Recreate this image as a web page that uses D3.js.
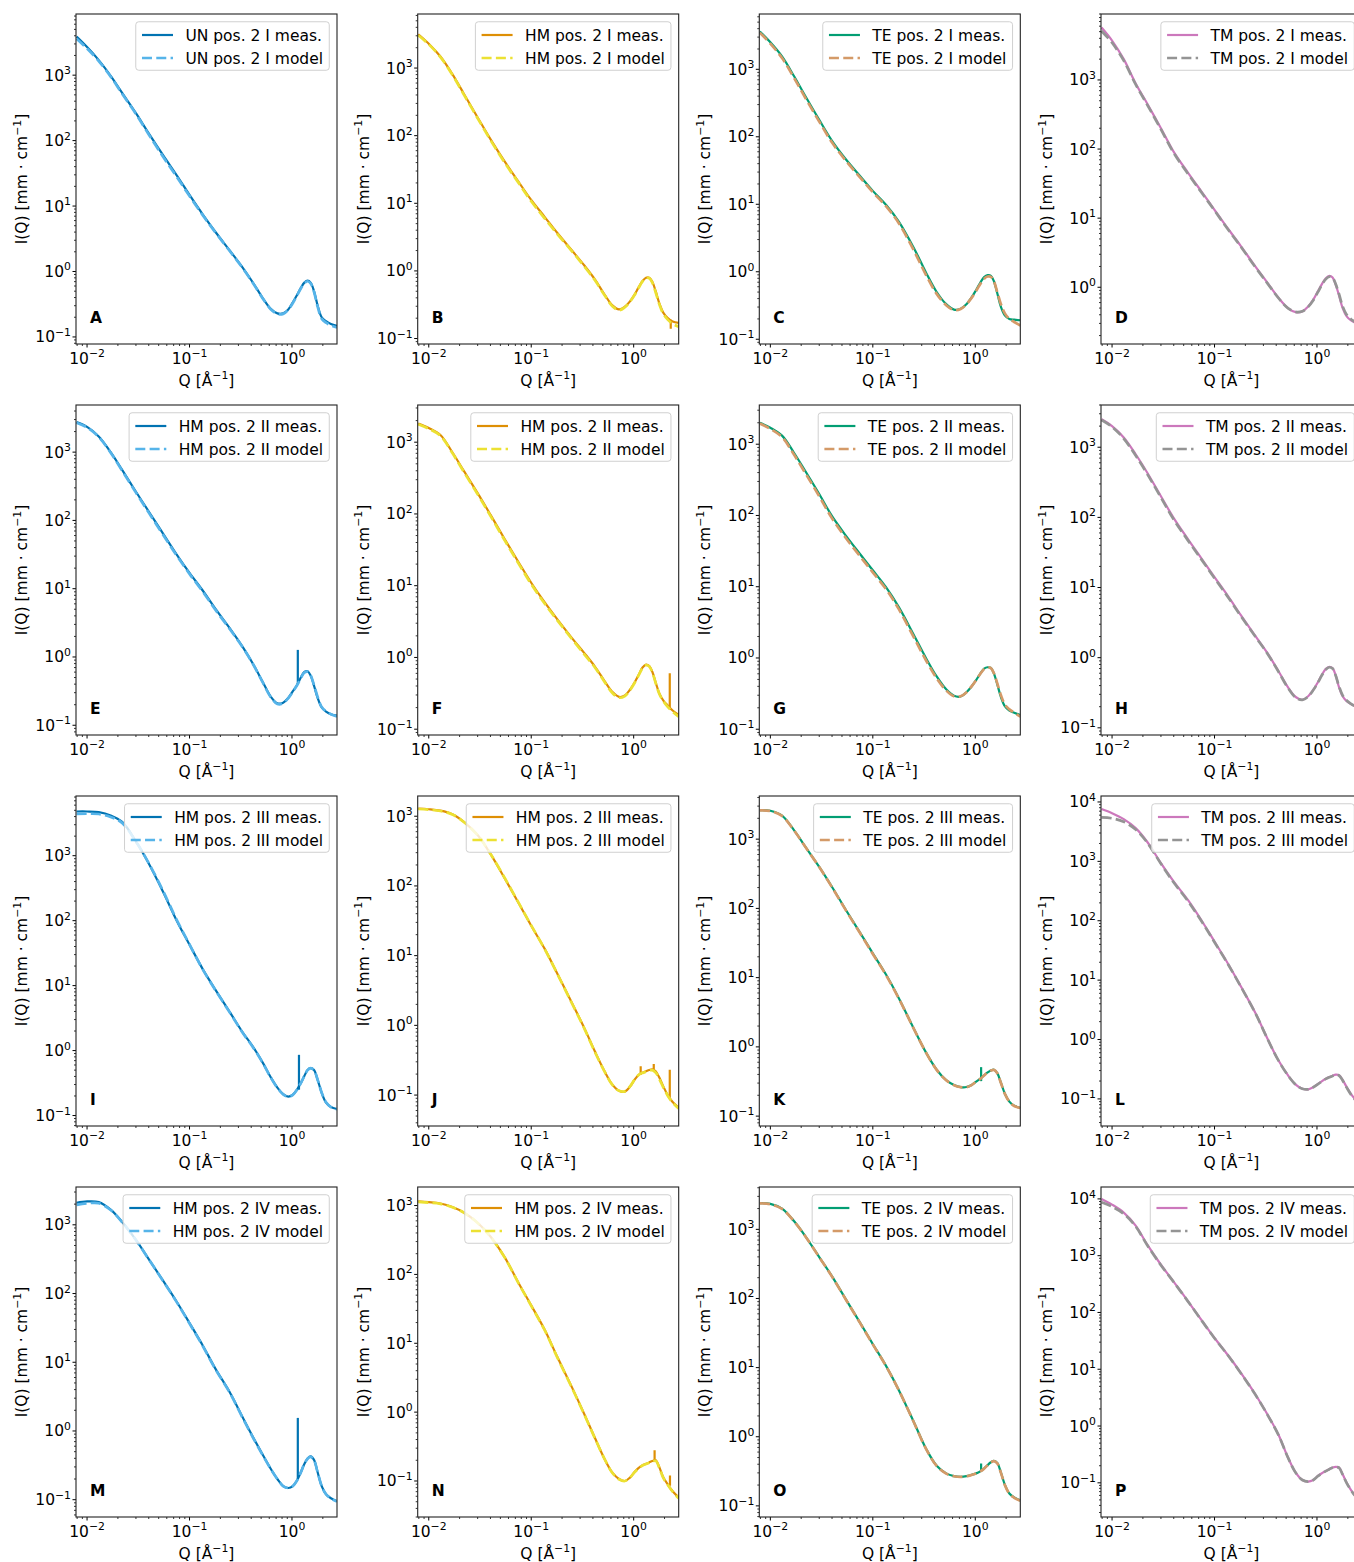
<!DOCTYPE html>
<html><head><meta charset="utf-8">
<script src="https://cdn.jsdelivr.net/npm/d3@7"></script>
<style>
body{margin:0;background:#fff;}
svg{display:block;font-family:"DejaVu Sans",sans-serif;}
</style></head><body>
<svg id="chart" width="1354" height="1562"></svg>
<script>
// ---------------- DATA ----------------
const Q = [0.0079,0.01,0.013,0.017,0.022,0.03,0.04,0.055,0.075,0.1,0.135,0.18,0.25,0.33,0.42,0.52,0.62,0.72,0.82,0.92,1.02,1.12,1.22,1.32,1.42,1.52,1.64,1.78,1.95,2.15,2.4,2.75];

const panelLetters = ["A","B","C","D","E","F","G","H","I","J","K","L","M","N","O","P"];
const sampleNames = ["UN","HM","TE","TM","HM","HM","TE","TM","HM","HM","TE","TM","HM","HM","TE","TM"];
const positionNames = ["I","I","I","I","II","II","II","II","III","III","III","III","IV","IV","IV","IV"];
const xTickLabels = ["10^-2","10^-1","10^0"];

const measA = [3890,2690,1700,977,537,263,129,60.3,29.5,14.8,7.41,3.98,2.04,1.15,0.661,0.389,0.269,0.229,0.229,0.263,0.339,0.437,0.562,0.676,0.724,0.676,0.501,0.302,0.2,0.174,0.158,0.148];
const modelA = [3600,2550,1640,950,520,255,124,57,28,14.2,7.2,3.9,2.0,1.13,0.65,0.385,0.265,0.224,0.225,0.26,0.33,0.43,0.55,0.66,0.71,0.66,0.49,0.29,0.19,0.165,0.15,0.14];
const measB = [3160,2290,1480,813,417,186,89.1,41.7,20.9,11.2,6.31,3.63,2.0,1.2,0.741,0.447,0.309,0.269,0.295,0.355,0.447,0.575,0.708,0.794,0.794,0.692,0.501,0.331,0.24,0.2,0.178,0.17];
const modelB = [3050,2240,1450,795,405,181,86,40,20.2,10.7,6.0,3.5,1.95,1.16,0.72,0.435,0.3,0.262,0.29,0.35,0.44,0.565,0.7,0.785,0.78,0.67,0.48,0.32,0.23,0.19,0.165,0.15];
const measC = [3630,2510,1550,794,398,178,87.1,45.7,26.3,15.8,9.77,5.5,2.29,0.977,0.501,0.331,0.275,0.282,0.331,0.417,0.537,0.692,0.832,0.891,0.871,0.724,0.479,0.302,0.224,0.2,0.195,0.191];
const modelC = [3500,2400,1470,750,375,168,82,43.5,25,15.1,9.3,5.2,2.1,0.9,0.47,0.32,0.27,0.28,0.33,0.41,0.52,0.66,0.79,0.85,0.84,0.72,0.5,0.33,0.24,0.2,0.18,0.16];
const measD = [5750,3720,2000,891,457,200,91.2,45.7,24.0,13.2,7.08,3.98,2.0,1.15,0.708,0.501,0.437,0.447,0.525,0.661,0.871,1.12,1.35,1.46,1.38,1.10,0.759,0.501,0.38,0.331,0.302,0.263];
const modelD = [5100,3450,1900,860,440,193,88,44,23.3,12.9,6.9,3.9,1.96,1.13,0.7,0.5,0.44,0.45,0.52,0.65,0.85,1.09,1.31,1.42,1.37,1.12,0.8,0.53,0.4,0.345,0.31,0.27];
const measE = [2750,2340,1700,1000,550,263,135,64.6,31.6,17.0,9.33,5.01,2.57,1.41,0.776,0.427,0.263,0.209,0.214,0.251,0.316,0.389,0.501,0.603,0.617,0.537,0.38,0.251,0.182,0.158,0.145,0.138];
const modelE = [2700,2300,1670,980,535,255,130,62,30.5,16.5,9.0,4.85,2.5,1.39,0.77,0.42,0.258,0.205,0.21,0.25,0.31,0.385,0.49,0.59,0.61,0.54,0.39,0.26,0.185,0.16,0.145,0.135];
const measF = [1820,1580,1260,724,398,195,97.7,44.7,21.4,11.0,5.89,3.39,1.86,1.15,0.741,0.468,0.331,0.282,0.295,0.355,0.447,0.575,0.724,0.794,0.759,0.631,0.447,0.316,0.251,0.214,0.182,0.158];
const modelF = [1780,1540,1230,705,385,188,94,43,20.5,10.5,5.65,3.28,1.8,1.1,0.72,0.455,0.32,0.275,0.29,0.35,0.44,0.565,0.71,0.78,0.75,0.62,0.44,0.31,0.245,0.205,0.175,0.15];
const measG = [2000,1700,1320,759,417,200,97.7,51.3,28.8,17.0,9.77,5.13,2.14,1.0,0.55,0.363,0.295,0.288,0.331,0.398,0.49,0.603,0.708,0.741,0.724,0.603,0.427,0.282,0.209,0.182,0.17,0.158];
const modelG = [1950,1640,1260,715,390,186,91,47.5,26.8,15.9,9.2,4.8,1.98,0.93,0.52,0.35,0.29,0.29,0.33,0.4,0.49,0.6,0.7,0.735,0.72,0.61,0.44,0.3,0.22,0.19,0.17,0.15];
const measH = [2510,2000,1380,794,437,200,97.7,49.0,25.7,14.1,7.59,4.07,2.04,1.15,0.646,0.38,0.275,0.251,0.282,0.347,0.447,0.575,0.692,0.741,0.708,0.562,0.38,0.282,0.24,0.219,0.2,0.178];
const modelH = [2450,1950,1330,760,418,192,93,47,24.8,13.6,7.35,3.95,2.0,1.13,0.635,0.372,0.27,0.25,0.28,0.345,0.44,0.565,0.68,0.73,0.7,0.56,0.39,0.29,0.245,0.22,0.2,0.18];
const measI = [4790,4790,4680,4170,3310,1660,759,282,100,42.7,17.8,8.51,3.8,1.91,1.12,0.646,0.389,0.269,0.214,0.195,0.209,0.251,0.316,0.407,0.501,0.537,0.501,0.355,0.224,0.158,0.135,0.126];
const modelI = [4400,4420,4380,3950,3200,1650,770,290,103,43,17.6,8.4,3.75,1.88,1.1,0.64,0.385,0.267,0.212,0.194,0.208,0.25,0.315,0.405,0.5,0.535,0.5,0.355,0.225,0.16,0.135,0.125];
const measJ = [1290,1260,1200,1070,832,537,288,129,57.5,26.9,12.6,5.5,2.09,0.912,0.417,0.219,0.141,0.115,0.112,0.132,0.166,0.195,0.209,0.219,0.229,0.234,0.219,0.178,0.132,0.1,0.0794,0.0661];
const modelJ = [1270,1240,1190,1060,825,535,290,131,58,27.1,12.5,5.45,2.06,0.9,0.41,0.217,0.14,0.115,0.113,0.133,0.167,0.195,0.208,0.216,0.224,0.228,0.21,0.17,0.128,0.098,0.078,0.064];
const measK = [2630,2570,2190,1350,776,398,204,93.3,44.7,22.4,11.0,5.01,1.86,0.832,0.468,0.331,0.282,0.263,0.263,0.282,0.316,0.347,0.389,0.427,0.457,0.468,0.417,0.302,0.209,0.162,0.141,0.132];
const modelK = [2600,2550,2170,1340,770,395,202,92,44,22,10.8,4.95,1.85,0.83,0.465,0.33,0.28,0.262,0.262,0.28,0.315,0.345,0.387,0.425,0.455,0.465,0.415,0.3,0.208,0.162,0.14,0.131];
const measL = [7590,6460,5130,3630,2140,933,457,224,100,44.7,19.1,7.94,2.82,1.02,0.447,0.251,0.174,0.148,0.145,0.158,0.178,0.2,0.219,0.234,0.245,0.257,0.251,0.209,0.158,0.12,0.0955,0.0759];
const modelL = [5500,5300,4650,3430,2080,910,440,215,97,43.5,18.7,7.85,2.8,1.01,0.445,0.25,0.174,0.148,0.145,0.157,0.177,0.198,0.217,0.232,0.243,0.254,0.248,0.205,0.155,0.118,0.094,0.075];
const measM = [2090,2190,2140,1660,1100,603,316,155,75.9,37.2,17.4,7.94,3.55,1.58,0.794,0.447,0.282,0.2,0.158,0.148,0.158,0.191,0.251,0.331,0.398,0.427,0.38,0.251,0.158,0.12,0.105,0.0955];
const modelM = [1950,2050,2060,1640,1090,600,315,154,75,36.6,17.1,7.8,3.5,1.55,0.78,0.44,0.28,0.2,0.158,0.148,0.158,0.19,0.25,0.33,0.395,0.42,0.375,0.25,0.158,0.12,0.104,0.094];
const measN = [1150,1120,1070,955,794,562,355,178,75.9,35.5,15.8,6.31,2.29,0.933,0.417,0.209,0.132,0.107,0.1,0.112,0.135,0.155,0.17,0.178,0.186,0.195,0.2,0.158,0.112,0.0891,0.0708,0.0575];
const modelN = [1130,1100,1060,945,790,560,352,177,75,35,15.6,6.2,2.25,0.92,0.412,0.208,0.131,0.106,0.1,0.112,0.134,0.153,0.168,0.176,0.184,0.192,0.196,0.155,0.11,0.088,0.07,0.056];
const measO = [2400,2340,2000,1320,794,398,209,95.5,44.7,21.9,10.5,4.68,1.66,0.676,0.38,0.295,0.269,0.263,0.269,0.282,0.295,0.316,0.347,0.389,0.427,0.447,0.417,0.302,0.2,0.151,0.132,0.12];
const modelO = [2370,2310,1980,1310,790,395,207,94.5,44.3,21.7,10.4,4.65,1.65,0.67,0.378,0.293,0.268,0.262,0.268,0.28,0.294,0.315,0.346,0.387,0.425,0.445,0.413,0.3,0.198,0.15,0.131,0.118];
const measP = [10000,7940,5750,3390,1580,692,347,158,72.4,35.5,17.8,8.71,3.63,1.58,0.708,0.282,0.151,0.112,0.105,0.112,0.132,0.148,0.162,0.174,0.186,0.191,0.186,0.141,0.1,0.0741,0.0575,0.0479];
const modelP = [8700,7300,5450,3270,1540,680,343,157,71.8,35.2,17.6,8.6,3.58,1.56,0.7,0.28,0.15,0.112,0.105,0.112,0.131,0.147,0.161,0.173,0.185,0.19,0.184,0.14,0.099,0.074,0.057,0.047];

// spikes in measured data: [Q, I low, I high]
const spikesB = [[2.3,0.14,0.19]];
const spikesE = [[1.14,0.4,1.27]];
const spikesF = [[2.25,0.2,0.6]];
const spikesI = [[1.17,0.25,0.86]];
const spikesJ = [[1.17,0.195,0.26],[1.57,0.232,0.28],[2.25,0.092,0.23]];
const spikesK = [[1.14,0.32,0.51]];
const spikesM = [[1.14,0.2,1.55]];
const spikesN = [[1.6,0.195,0.28],[2.26,0.085,0.12]];
const spikesO = [[1.14,0.31,0.41]];

// y-axis ranges (intensity) per panel
const yRanges = [
  [0.078,8600],[0.083,6300],[0.085,6600],[0.151,9000],
  [0.072,4900],[0.083,3300],[0.083,3550],[0.079,4000],
  [0.069,8300],[0.036,1950],[0.072,4200],[0.035,12600],
  [0.056,3550],[0.030,1860],[0.069,4100],[0.025,16200]
];
const xRange = [0.0078, 2.75];

const measSeries = [measA,measB,measC,measD,measE,measF,measG,measH,measI,measJ,measK,measL,measM,measN,measO,measP];
const modelSeries = [modelA,modelB,modelC,modelD,modelE,modelF,modelG,modelH,modelI,modelJ,modelK,modelL,modelM,modelN,modelO,modelP];
const spikeSeries = [[],spikesB,[],[],spikesE,spikesF,[],[],spikesI,spikesJ,spikesK,[],spikesM,spikesN,spikesO,[]];

// ---------------- STYLE ----------------
const measColors = ["#0173B2","#DE8F05","#029E73","#CC78BC"];
const modelColors = ["#56B4E9","#ECE133","#D49A68","#949494"];
const W = 261, H = 330;
const colLeft = [76, 417.7, 759.3, 1101];
const rowTop = [14, 405, 796, 1187];
const FS = 15.5;

const svg = d3.select("#chart");
const defs = svg.append("defs");

function supText(sel, base, exp, fs, anchor) {
  sel.attr("text-anchor", anchor).attr("font-size", fs);
  sel.append("tspan").text(base);
  sel.append("tspan").attr("dy", -fs*0.42).attr("font-size", fs*0.7).text(exp);
}

panelLetters.forEach((letter, i) => {
  const r = Math.floor(i/4), c = i%4;
  const left = colLeft[c], top = rowTop[r];
  const x = d3.scaleLog().domain(xRange).range([left, left+W]);
  const y = d3.scaleLog().domain(yRanges[i]).range([top+H, top]);
  const g = svg.append("g");

  defs.append("clipPath").attr("id","clip"+i)
    .append("rect").attr("x",left).attr("y",top).attr("width",W).attr("height",H);

  const plot = g.append("g").attr("clip-path","url(#clip"+i+")");
  const line = d3.line().x(d=>x(d[0])).y(d=>y(d[1])).curve(d3.curveCatmullRom.alpha(0.5));
  const meas = Q.map((q,k)=>[q, measSeries[i][k]]);
  const model = Q.map((q,k)=>[q, modelSeries[i][k]]);

  plot.append("path").datum(meas).attr("d",line)
    .attr("fill","none").attr("stroke",measColors[c]).attr("stroke-width",2.2)
    .attr("stroke-linejoin","round");
  plot.selectAll("line.spike").data(spikeSeries[i]).enter().append("line")
    .attr("x1",d=>x(d[0])).attr("x2",d=>x(d[0]))
    .attr("y1",d=>y(d[1])).attr("y2",d=>y(d[2]))
    .attr("stroke",measColors[c]).attr("stroke-width",2.2);
  plot.append("path").datum(model).attr("d",line)
    .attr("fill","none").attr("stroke",modelColors[c]).attr("stroke-width",2.7)
    .attr("stroke-dasharray","10,4.3");

  // ticks
  const ax = g.append("g").attr("stroke","#000");
  const [x0,x1] = xRange;
  for (let n=-3;n<=1;n++) for (let k=1;k<=9;k++) {
    const v = k*Math.pow(10,n);
    if (v < x0 || v > x1) continue;
    const len = k===1 ? 3.5 : 2;
    ax.append("line").attr("x1",x(v)).attr("x2",x(v)).attr("y1",top+H).attr("y2",top+H+len)
      .attr("stroke-width", k===1?1:0.8);
  }
  const [y0,y1] = yRanges[i];
  for (let n=-3;n<=5;n++) for (let k=1;k<=9;k++) {
    const v = k*Math.pow(10,n);
    if (v < y0 || v > y1) continue;
    const len = k===1 ? 3.5 : 2;
    ax.append("line").attr("y1",y(v)).attr("y2",y(v)).attr("x1",left).attr("x2",left-len)
      .attr("stroke-width", k===1?1:0.8);
    if (k===1) {
      supText(g.append("text").attr("x",left-5).attr("y",y(v)+5.5), "10", String(n).replace("-","\u2212"), FS, "end");
    }
  }
  xTickLabels.forEach(t => {
    const exp = +t.split("^")[1];
    const v = Math.pow(10,exp);
    supText(g.append("text").attr("x",x(v)).attr("y",top+H+19.5), "10", String(exp).replace("-","\u2212"), FS, "middle");
  });

  // frame
  g.append("rect").attr("x",left).attr("y",top).attr("width",W).attr("height",H)
    .attr("fill","none").attr("stroke","#222").attr("stroke-width",1.1);

  // axis labels
  const xl = g.append("text").attr("x",left+W/2).attr("y",top+H+42).attr("text-anchor","middle").attr("font-size",FS);
  xl.append("tspan").text("Q [Å");
  xl.append("tspan").attr("dy",-FS*0.42).attr("font-size",FS*0.7).text("\u22121");
  xl.append("tspan").attr("dy",FS*0.42).text("]");
  const yl = g.append("text").attr("transform",`translate(${left-49},${top+H/2}) rotate(-90)`)
    .attr("text-anchor","middle").attr("font-size",FS);
  yl.append("tspan").text("I(Q) [mm · cm");
  yl.append("tspan").attr("dy",-FS*0.42).attr("font-size",FS*0.7).text("\u22121");
  yl.append("tspan").attr("dy",FS*0.42).text("]");

  // panel letter
  g.append("text").attr("x",left+14).attr("y",top+H-21).attr("font-size",FS)
    .attr("font-weight","bold").text(letter);

  // legend
  const labels = [`${sampleNames[i]} pos. 2 ${positionNames[i]} meas.`, `${sampleNames[i]} pos. 2 ${positionNames[i]} model`];
  const lg = g.append("g");
  const box = lg.append("rect");
  const texts = labels.map((t,k)=> lg.append("text").attr("font-size",FS).attr("y",top+21+23*k+5.5).text(t));
  const tw = d3.max(texts, t=>t.node().getComputedTextLength());
  const bw = 6.2+31+12.4+tw+6.2;
  const bx = left+W-7.75-bw;
  box.attr("x",bx).attr("y",top+7.75).attr("width",bw).attr("height",48.5).attr("rx",3)
    .attr("fill","#fff").attr("fill-opacity",0.8).attr("stroke","#d0d0d0").attr("stroke-width",1);
  texts.forEach(t=>t.attr("x",bx+49.6));
  lg.append("line").attr("x1",bx+6.2).attr("x2",bx+37.2).attr("y1",top+21).attr("y2",top+21)
    .attr("stroke",measColors[c]).attr("stroke-width",2.2);
  lg.append("line").attr("x1",bx+6.2).attr("x2",bx+37.2).attr("y1",top+44).attr("y2",top+44)
    .attr("stroke",modelColors[c]).attr("stroke-width",2.7).attr("stroke-dasharray","10,4.3");
});
</script>
</body></html>
